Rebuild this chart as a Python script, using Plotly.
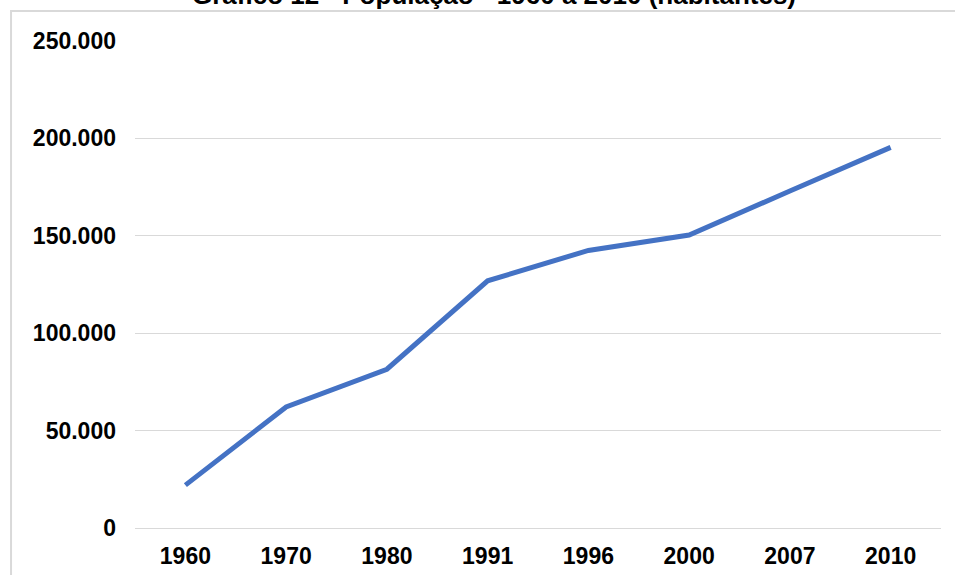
import plotly.graph_objects as go

# População residente por ano de recenseamento / estimativa
anos = ["1960", "1970", "1980", "1991", "1996", "2000", "2007", "2010"]
populacao = [22000, 62100, 81500, 126900, 142500, 150400, 173000, 195400]

y_ticks = [0, 50000, 100000, 150000, 200000, 250000]

titulo = "Gráfico 12 - População - 1960 a 2010 (habitantes)"

FONTE = "Liberation Sans, Arial, sans-serif"
AZUL = "#4472C4"
CINZA = "#d9d9d9"

fig = go.Figure()

fig.add_trace(
    go.Scatter(
        x=anos,
        y=populacao,
        mode="lines",
        line=dict(color=AZUL, width=5),
        hoverinfo="x+y",
        showlegend=False,
        cliponaxis=False,
    )
)

fig.update_layout(
    width=955,
    height=575,
    margin=dict(l=135, r=14, t=41, b=47),
    paper_bgcolor="white",
    plot_bgcolor="white",
    separators=",.",
    font=dict(family=FONTE, color="black"),
    showlegend=False,
)

fig.update_xaxes(
    type="category",
    range=[-0.5, len(anos) - 0.5],
    automargin=False,
    showgrid=False,
    showline=False,
    zeroline=False,
    ticks="",
    ticklabelstandoff=12,
    tickfont=dict(family=FONTE, size=23, color="black", weight="bold"),
)

fig.update_yaxes(
    range=[0, 250000],
    tickvals=y_ticks,
    tickformat=",.0f",
    automargin=False,
    showgrid=True,
    gridcolor=CINZA,
    gridwidth=1,
    zeroline=True,
    zerolinecolor=CINZA,
    zerolinewidth=1,
    showline=False,
    ticks="",
    ticklabelstandoff=18,
    tickfont=dict(family=FONTE, size=23, color="black", weight="bold"),
)

# Moldura da área do gráfico
fig.add_shape(
    type="rect",
    xref="paper",
    yref="paper",
    x0=-0.1538,
    x1=1.03,
    y0=-0.13,
    y1=1.0616,
    line=dict(color=CINZA, width=2),
    fillcolor="rgba(0,0,0,0)",
    layer="below",
)

# Título
fig.add_annotation(
    text="<b>" + titulo + "</b>",
    xref="paper",
    yref="paper",
    x=0.4454,
    y=1.0945,
    xanchor="center",
    yanchor="middle",
    showarrow=False,
    font=dict(family=FONTE, size=26, color="black"),
)

fig.write_html("out.html")
